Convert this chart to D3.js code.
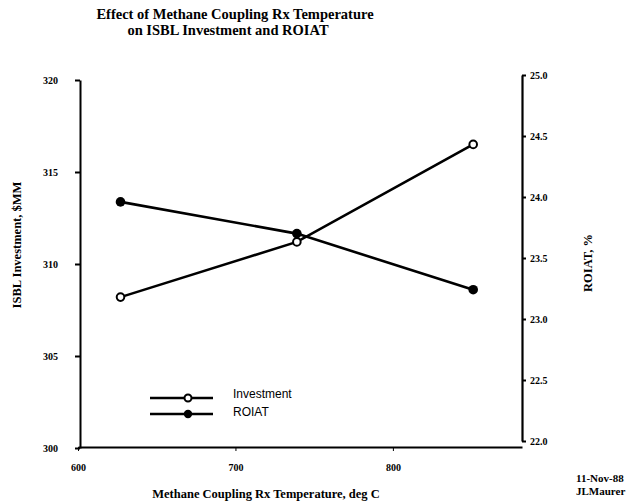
<!DOCTYPE html>
<html>
<head>
<meta charset="utf-8">
<script src="https://cdn.jsdelivr.net/npm/d3@7"></script>
<style>
  body { margin: 0; background: #fff; }
  svg { display: block; }
  .title { font-family: 'Liberation Serif', serif; font-weight: bold; font-size: 14.5px; }
  .lab { font-family: 'Liberation Serif', serif; font-weight: bold; font-size: 12.5px; }
  .tick text { font-family: 'Liberation Serif', serif; font-weight: bold; font-size: 10px; }
</style>
</head>
<body>
<svg id="canvas"></svg>
<script>
// data
const temps = [627, 739, 851];
const investment = [308.2, 311.2, 316.5];
const roiat = [23.96, 23.70, 23.24];

const xTicks = [600, 700, 800];
const leftTicks = [300, 305, 310, 315, 320];
const rightTicks = [22.0, 22.5, 23.0, 23.5, 24.0, 24.5, 25.0];

let width = 634;
let height = 501;

let canvas = d3.select('#canvas');
canvas.attr('width', width).attr('height', height);

let xScale = d3.scaleLinear().domain([600, 882]).range([78, 522]);
let yLeft = d3.scaleLinear().domain([300, 320]).range([448, 80]);
let yRight = d3.scaleLinear().domain([22, 25]).range([441, 75]);

// title
canvas.append('text').attr('class', 'title')
    .attr('x', 235).attr('y', 19).attr('text-anchor', 'middle')
    .text('Effect of Methane Coupling Rx Temperature');
canvas.append('text').attr('class', 'title')
    .attr('x', 228).attr('y', 35).attr('text-anchor', 'middle')
    .text('on ISBL Investment and ROIAT');

// axes
let xAxis = d3.axisBottom(xScale).tickValues(xTicks).tickFormat(d3.format('d')).tickSize(4).tickSizeOuter(0);
canvas.append('g').attr('transform', 'translate(0,447)').call(xAxis)
    .call(g => g.select('.domain').attr('stroke-width', 2.2))
    .call(g => g.selectAll('.tick text').attr('dy', '1.7em'));

let leftAxis = d3.axisLeft(yLeft).tickValues(leftTicks).tickFormat(d3.format('d')).tickSize(5).tickSizeOuter(0);
canvas.append('g').attr('transform', 'translate(80,0)').call(leftAxis)
    .call(g => g.select('.domain').attr('stroke-width', 2))
    .call(g => g.selectAll('.tick line').attr('stroke-width', 2))
    .call(g => g.selectAll('.tick text').attr('x', -22));

let rightAxis = d3.axisRight(yRight).tickValues(rightTicks).tickFormat(d3.format('.1f')).tickSize(4).tickSizeOuter(0);
canvas.append('g').attr('transform', 'translate(522,0)').call(rightAxis)
    .call(g => g.select('.domain').attr('stroke-width', 2.2))
    .call(g => g.selectAll('.tick line').attr('stroke-width', 2))
    .call(g => g.selectAll('.tick text').attr('x', 8));

// axis labels
canvas.append('text').attr('class', 'lab')
    .attr('transform', 'translate(21,245) rotate(-90)').attr('text-anchor', 'middle')
    .text('ISBL Investment, $MM');
canvas.append('text').attr('class', 'lab')
    .attr('transform', 'translate(592,263) rotate(-90)').attr('text-anchor', 'middle')
    .text('ROIAT, %');
canvas.append('text').attr('class', 'lab')
    .attr('x', 266).attr('y', 498).attr('text-anchor', 'middle')
    .text('Methane Coupling Rx Temperature, deg C');
canvas.append('text').attr('class', 'lab')
    .attr('x', 576).attr('y', 482).style('font-size', '11px')
    .text('11-Nov-88');
canvas.append('text').attr('class', 'lab')
    .attr('x', 576).attr('y', 495).style('font-size', '11px')
    .text('JLMaurer');

// lines
let invLine = d3.line().x((d, i) => xScale(temps[i])).y(d => yLeft(d));
let roiLine = d3.line().x((d, i) => xScale(temps[i])).y(d => yRight(d));

canvas.append('path').datum(investment).attr('d', invLine)
    .attr('fill', 'none').attr('stroke', '#000').attr('stroke-width', 2.6);
canvas.append('path').datum(roiat).attr('d', roiLine)
    .attr('fill', 'none').attr('stroke', '#000').attr('stroke-width', 2.6);

canvas.selectAll('.inv').data(investment).enter().append('circle')
    .attr('class', 'inv')
    .attr('cx', (d, i) => xScale(temps[i])).attr('cy', d => yLeft(d))
    .attr('r', 3.8).attr('fill', '#fff').attr('stroke', '#000').attr('stroke-width', 2);
canvas.selectAll('.roi').data(roiat).enter().append('circle')
    .attr('class', 'roi')
    .attr('cx', (d, i) => xScale(temps[i])).attr('cy', d => yRight(d))
    .attr('r', 4.8).attr('fill', '#000');

// legend
let legend = canvas.append('g').attr('transform', 'translate(150,398)');
legend.append('line').attr('x1', 0).attr('x2', 63).attr('y1', 0).attr('y2', 0)
    .attr('stroke', '#000').attr('stroke-width', 2.6);
legend.append('circle').attr('cx', 38).attr('cy', 0).attr('r', 3.5)
    .attr('fill', '#fff').attr('stroke', '#000').attr('stroke-width', 2);
legend.append('line').attr('x1', 0).attr('x2', 63).attr('y1', 16).attr('y2', 16)
    .attr('stroke', '#000').attr('stroke-width', 2.6);
legend.append('circle').attr('cx', 38).attr('cy', 16).attr('r', 4.2).attr('fill', '#000');
legend.append('text').attr('x', 83).attr('y', 0)
    .style('font-family', 'Liberation Sans, sans-serif').style('font-size', '12px')
    .text('Investment');
legend.append('text').attr('x', 83).attr('y', 18)
    .style('font-family', 'Liberation Sans, sans-serif').style('font-size', '12px')
    .text('ROIAT');
</script>
</body>
</html>
